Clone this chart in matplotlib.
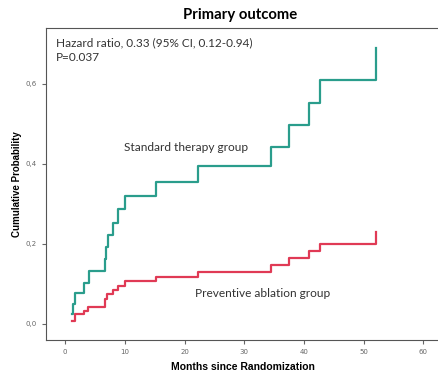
import matplotlib.pyplot as plt

# step data (months, cumulative probability)
std_months = [1.2, 1.3, 1.6, 3.2, 4.0, 6.6, 6.9, 7.1, 8.0, 8.9, 10.0, 15.2, 22.2, 34.4, 37.5, 40.9, 42.7, 52.0]
std_prob = [0.025, 0.05, 0.077, 0.103, 0.133, 0.163, 0.192, 0.222, 0.253, 0.287, 0.319, 0.354, 0.395, 0.443, 0.497, 0.552, 0.61, 0.69]

abl_months = [1.2, 1.6, 3.2, 3.9, 6.6, 7.0, 8.0, 8.9, 10.0, 15.2, 22.2, 34.4, 37.5, 40.9, 42.7, 52.0]
abl_prob = [0.007, 0.025, 0.032, 0.043, 0.062, 0.076, 0.085, 0.096, 0.107, 0.118, 0.13, 0.147, 0.166, 0.183, 0.2, 0.229]

xticks = [0, 10, 20, 30, 40, 50, 60]
yticks = [0.0, 0.2, 0.4, 0.6]
yticklabels = ['0,0', '0,2', '0,4', '0,6']

teal = '#2a9d8c'
red = '#e03a55'

fig = plt.figure(figsize=(4.39, 3.73), dpi=100)
ax = fig.add_axes([0.105, 0.0885, 0.895, 0.8365])

ax.step(std_months, std_prob, where='post', color=teal, lw=1.6)
ax.step(abl_months, abl_prob, where='post', color=red, lw=1.6)

ax.set_xlim(-3.2, 62.6)
ax.set_ylim(-0.04, 0.74)
ax.set_xticks(xticks)
ax.set_yticks(yticks)
ax.set_yticklabels(yticklabels)
ax.tick_params(labelsize=5, colors='#666666', length=3, width=0.8)
for s in ['left', 'bottom', 'top']:
    ax.spines[s].set_color('#555555')
ax.spines['right'].set_visible(False)

ax.set_xlabel('Months since Randomization', fontsize=7.5, fontweight='bold',
              family='Liberation Sans', labelpad=5)
ax.set_ylabel('Cumulative Probability', fontsize=7, fontweight='bold',
              family='Liberation Sans', labelpad=3)
fig.text(0.547, 0.96, 'Primary outcome', ha='center', va='center',
         fontsize=10.7, fontweight='bold', family='Lato')

ax.text(-1.5, 0.685, 'Hazard ratio, 0.33 (95% CI, 0.12-0.94)\nP=0.037',
        fontsize=8.5, family='Lato', color='#333333', va='center', linespacing=1.35)
ax.text(9.9, 0.44, 'Standard therapy group', fontsize=8.6, family='Lato', color='#333333', va='center')
ax.text(21.8, 0.075, 'Preventive ablation group', fontsize=8.6, family='Lato', color='#333333', va='center')

fig.savefig('out.png', dpi=100)
